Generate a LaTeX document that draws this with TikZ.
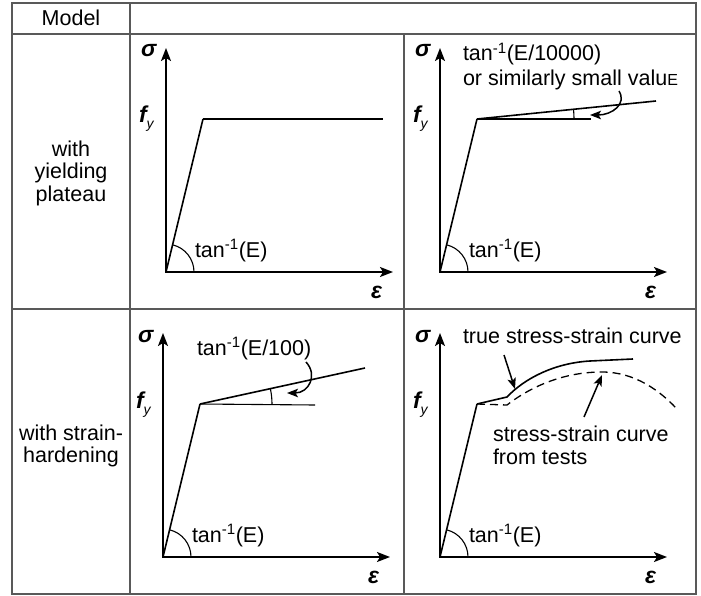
\documentclass[tikz,border=0pt]{standalone}
\usepackage{fontspec}
\setmainfont{Liberation Sans}
\usetikzlibrary{arrows.meta,angles}
\begin{document}
\begin{tikzpicture}[x=1pt,y=-1pt,
  every node/.style={inner sep=0pt, outer sep=0pt, font=\fontsize{21.5}{22.5}\selectfont},
  grid/.style={draw=black!65, line width=1.4pt},
  axis/.style={line width=1.8pt, {Stealth[length=13pt,width=10pt,inset=3pt]}-{Stealth[length=13pt,width=10pt,inset=3pt]}},
  curve/.style={line width=1.6pt},
  thinline/.style={line width=1.1pt},
  pointer/.style={line width=1.5pt, -{Stealth[length=11pt,width=8.5pt,inset=2.5pt]}},
  sym/.style={font=\fontsize{23}{24}\selectfont\bfseries\itshape},
]
\useasboundingbox (0,0) rectangle (701,596);
\fill[white] (0,0) rectangle (701,596);

% ---- table ----
\draw[grid] (12,3) rectangle (696,594);
\draw[grid] (12,34) -- (696,34);
\draw[grid] (12,309) -- (696,309);
\draw[grid] (130,3) -- (130,594);
\draw[grid] (404,34) -- (404,594);

\node (model) at (71,18) {Model};
\node[align=center] (rowA) at (71,173) {with\\yielding\\plateau};
\node[align=center] (rowB) at (71,446) {with strain-\\hardening};

% ---- common panel ----
\newcommand\stdpanel[3]{%
 \begin{scope}[shift={(#2,#3)}]
  \coordinate (#1O) at (0,0);
  \coordinate (#1Y) at (0,-224);
  \coordinate (#1X) at (227,0);
  \coordinate (#1F) at (37,-153);
  \draw[axis] (#1Y) -- (#1O) -- (#1X);
  \draw[curve] (#1O) -- (#1F);
  \pic[draw, thinline, angle radius=28pt] {angle=#1X--#1O--#1F};
  \node[sym, anchor=base west] (#1sig) at (-25,-215) {σ};
  \node[anchor=base west] (#1fy) at (-27,-149) {{\fontsize{23}{24}\selectfont\bfseries\itshape f}\raisebox{-6pt}{\fontsize{14}{14}\selectfont\itshape y}};
  \node[sym, anchor=base west] (#1eps) at (205,26) {ε};
  \node[anchor=base west] (#1tan) at (29,-15) {tan\textsuperscript{-1}(E)};
 \end{scope}}

% ---- panel 1: yielding plateau ----
\stdpanel{a}{166}{272}
\begin{scope}[shift={(166,272)}]
  \coordinate (aP) at (217,-153);
  \draw[curve] (aF) -- (aP);
\end{scope}

% ---- panel 2: plateau with small slope ----
\stdpanel{b}{440}{272}
\begin{scope}[shift={(440,272)}]
  \coordinate (bL) at (216,-171);
  \coordinate (bH) at (151,-153);
  \draw[curve] (bF) -- (bL);
  \draw[thinline] (bF) -- (bH);
  \pic[draw, thinline, angle radius=97pt] {angle=bH--bF--bL};
  \node[anchor=base west] (bt1) at (23,-211) {tan\textsuperscript{-1}(E/10000)};
  \node[anchor=base west] (bt2) at (23,-186) {or similarly small valu{\fontsize{16}{16}\selectfont E}};
  \coordinate (bs) at (179,-181);
  \coordinate (be) at (150,-157);
  \draw[pointer] (bs) .. controls (187,-168) and (172,-157) .. (be);
\end{scope}

% ---- panel 3: strain hardening ----
\stdpanel{c}{163}{557}
\begin{scope}[shift={(163,557)}]
  \coordinate (cL) at (202,-189);
  \coordinate (cH) at (152,-152);
  \draw[curve] (cF) -- (cL);
  \draw[thinline] (cF) -- (cH);
  \pic[draw, thinline, angle radius=72pt] {angle=cH--cF--cL};
  \node[anchor=base west] (ct) at (34,-202) {tan\textsuperscript{-1}(E/100)};
  \coordinate (cs) at (143,-195);
  \coordinate (ce) at (124,-164);
  \draw[pointer] (cs) .. controls (155,-182) and (146,-164) .. (ce);
\end{scope}

% ---- panel 4: true vs test curve ----
\stdpanel{d}{440}{557}
\begin{scope}[shift={(440,557)}]
  \coordinate (dK) at (67,-160);
  \coordinate (dE) at (193,-198);
  \draw[curve] (dF) -- (dK) .. controls (85,-179) and (115,-194) .. (150,-196) -- (dE);
  \coordinate (dQ) at (67,-152);
  \coordinate (dM) at (162,-185);
  \coordinate (dZ) at (236,-149);
  \draw[line width=1.3pt, dash pattern=on 8pt off 5pt]
     (dF) -- (dQ) .. controls (85,-166) and (118,-185) .. (dM)
     .. controls (195,-185) and (220,-166) .. (dZ);
  \node[anchor=base west] (dt1) at (23,-214) {true stress-strain curve};
  \node[anchor=base west] (dt2) at (53,-116) {stress-strain curve};
  \node[anchor=base west] (dt3) at (53,-93) {from tests};
  \coordinate (d1s) at (64,-202);
  \coordinate (d1e) at (75,-168);
  \draw[pointer] (d1s) -- (d1e);
  \coordinate (d2s) at (144,-140);
  \coordinate (d2e) at (162,-182);
  \draw[pointer] (d2s) -- (d2e);
\end{scope}
\end{tikzpicture}
\end{document}
